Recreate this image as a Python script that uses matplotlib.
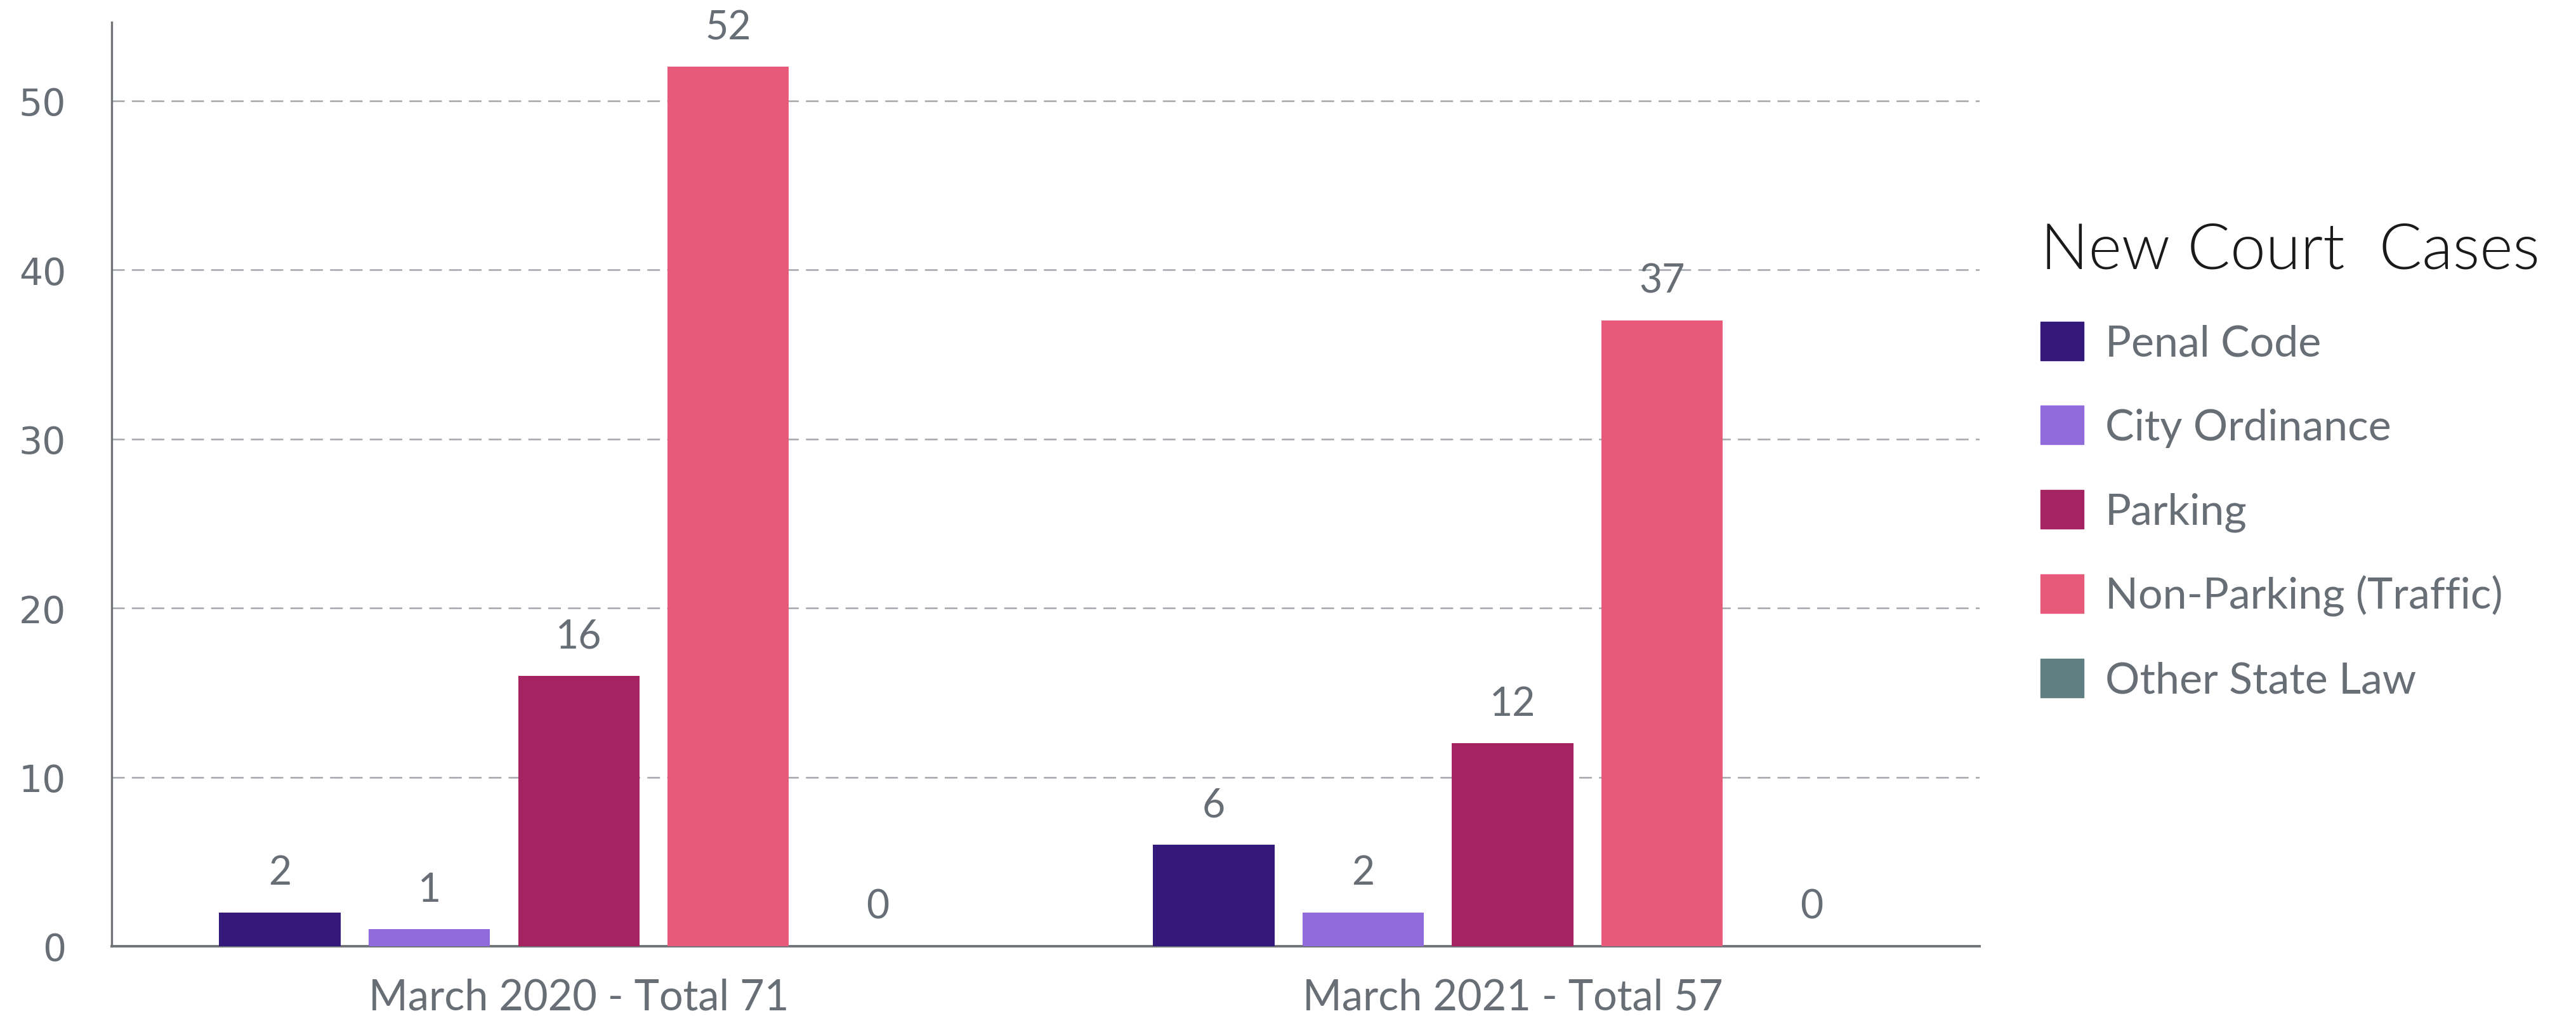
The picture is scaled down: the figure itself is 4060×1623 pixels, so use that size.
import matplotlib
matplotlib.use("Agg")
import matplotlib.pyplot as plt
import matplotlib.patches as mpatches
import numpy as np

# data
groups = ["March 2020 - Total 71", "March 2021 - Total 57"]
series = ["Penal Code", "City Ordinance", "Parking", "Non-Parking (Traffic)", "Other State Law"]
penal_code = [2, 6]
city_ordinance = [1, 2]
parking = [16, 12]
non_parking = [52, 37]
other_state = [0, 0]
colors = ["#35197a", "#8f6bdb", "#a52361", "#e85a79", "#5f7f82"]

values = [penal_code, city_ordinance, parking, non_parking, other_state]
text_grey = "#676e75"

plt.rcParams["font.family"] = ["Lato", "DejaVu Sans"]

fig = plt.figure(figsize=(40.6, 16.24), dpi=100)
ax = fig.add_axes([0.0434, 0.0813, 0.7251, 0.8966])

x = np.arange(len(groups))
step = 0.16
width = 0.13
for i, (name, vals) in enumerate(zip(series, values)):
    pos = x + (i - 2) * step
    bars = ax.bar(pos, vals, width, color=colors[i], label=name, zorder=3)
    for b, v in zip(bars, vals):
        ax.annotate(str(v), (b.get_x() + b.get_width() / 2, v),
                    xytext=(0, 24), textcoords="offset points",
                    ha="center", va="bottom", fontsize=45, color=text_grey)

ax.set_xlim(-0.5, 1.5)
ax.set_ylim(0, 54.65)
ax.set_yticks([0, 10, 20, 30, 40, 50])
ax.set_xticks(x)
ax.set_xticklabels(groups)

ax.tick_params(axis="y", length=0, pad=52, labelsize=42, labelcolor=text_grey)
ax.tick_params(axis="x", length=0, pad=36, labelsize=48, labelcolor=text_grey)
for lab in ax.get_yticklabels():
    lab.set_family("DejaVu Sans")

ax.grid(axis="y", linestyle=(0, (8, 4.5)), color="#a4a8ac", linewidth=1.8, zorder=0)
ax.set_axisbelow(True)
for s in ["top", "right"]:
    ax.spines[s].set_visible(False)
ax.spines["left"].set_color("#707478")
ax.spines["left"].set_linewidth(2.4)
ax.spines["bottom"].set_color("#707478")
ax.spines["bottom"].set_linewidth(2.8)

handles = [mpatches.Patch(color=c, label=n) for c, n in zip(colors, series)]
leg = fig.legend(handles=handles, title="New Court  Cases", loc="upper left",
                 bbox_to_anchor=(0.777, 0.822), frameon=False, fontsize=49,
                 handlelength=1.0, handleheight=1.0, handletextpad=0.5,
                 labelspacing=0.98, alignment="left",
                 title_fontproperties={"size": 72, "weight": 300, "family": "Lato"})
for t in leg.get_texts():
    t.set_color(text_grey)
leg.get_title().set_color("#1a1a1a")

fig.savefig("out.png", dpi=100)
